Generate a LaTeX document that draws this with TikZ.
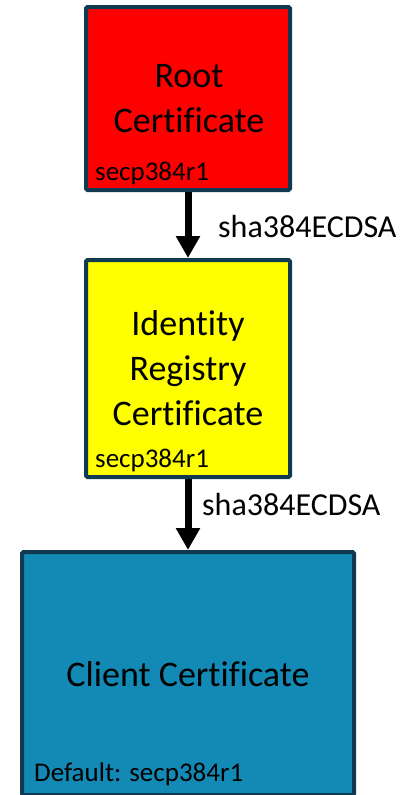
\documentclass[tikz,border=0pt]{standalone}
\usepackage{fontspec}
\setmainfont[Ligatures=NoCommon]{Carlito}
\usetikzlibrary{arrows.meta}
\definecolor{edgeblue}{RGB}{16,58,80}
\definecolor{certred}{RGB}{255,0,0}
\definecolor{certyellow}{RGB}{255,255,0}
\definecolor{certblue}{RGB}{19,138,181}
\tikzset{
  certbox/.style={draw=edgeblue, line width=4pt, rounded corners=1.5pt, inner sep=0pt},
  title/.style={inner sep=0pt, anchor=base, align=center, font=\fontsize{36}{45}\selectfont},
  curve/.style={inner sep=0pt, anchor=base west, font=\fontsize{27}{32}\selectfont},
  siglabel/.style={inner sep=0pt, anchor=base west, font=\fontsize{32}{38}\selectfont},
  signs/.style={line width=7pt, -{Triangle[width=23pt,length=22pt]}}
}
\begin{document}
\begin{tikzpicture}[x=1pt,y=-1pt]
  \useasboundingbox (0,0) rectangle (410,795);
  \begin{scope}
    \clip (0,0) rectangle (410,795);
    % certificate boxes
    \node[certbox, fill=certred, minimum width=204pt, minimum height=183pt] (root) at (188,98.5) {};
    \node[certbox, fill=certyellow, minimum width=204pt, minimum height=217pt] (reg) at (188,368.5) {};
    \node[certbox, fill=certblue, minimum width=332pt, minimum height=243pt] (client) at (188,673.5) {};
  \end{scope}
  % box titles (anchored on the baseline of their last line)
  \node[title] (roottitle) at (189,132) {Root\\Certificate};
  \node[title] (regtitle) at (188,425) {Identity\\Registry\\Certificate};
  \node[title] (clienttitle) at (188,686) {Client Certificate};
  % key curves
  \node[curve] (rootcurve) at (95,180) {secp384r1};
  \node[curve] (regcurve) at (95,467) {secp384r1};
  \node[curve] (clientcurve) at (34,781) {Default: secp384r1};
  % signing links
  \draw[signs] (root.south) -- (reg.north);
  \draw[signs] (reg.south) -- (client.north);
  \node[siglabel] (sig1) at (218,237) {sha384ECDSA};
  \node[siglabel] (sig2) at (202,515) {sha384ECDSA};
\end{tikzpicture}
\end{document}
